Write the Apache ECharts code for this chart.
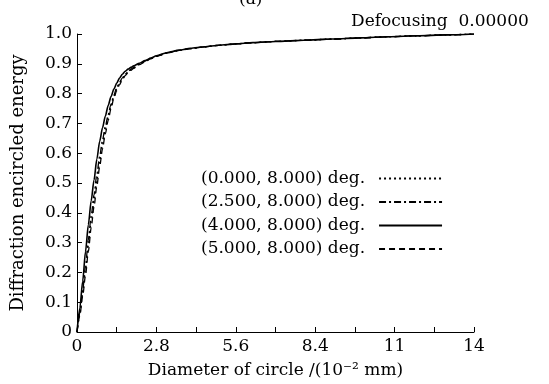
<!DOCTYPE html>
<html>
<head>
<meta charset="utf-8">
<script src="https://cdn.jsdelivr.net/npm/echarts@6/dist/echarts.min.js"></script>
<style>
  html, body { margin: 0; padding: 0; background: #fff; }
  #chart { width: 549px; height: 384px; }
</style>
</head>
<body>
<div id="chart"></div>
<script>
// diameter of circle (10^-2 mm)
const diameters = [0, 0.1, 0.2, 0.3, 0.4, 0.5, 0.6, 0.7, 0.8, 0.9, 1.0, 1.1, 1.2, 1.3, 1.4, 1.5, 1.6, 1.7, 1.8, 1.9,
  2.0, 2.2, 2.4, 2.6, 2.8, 3.2, 3.6, 4.0, 4.5, 5.0, 5.6, 6.2, 7.0, 8.0, 9.0, 10, 11, 12, 13, 14]

const energy_0_0 = [0, 0.06, 0.13, 0.21, 0.29, 0.37, 0.44, 0.51, 0.57, 0.63, 0.68, 0.72, 0.76, 0.79, 0.815, 0.835, 0.85, 0.862, 0.872, 0.88,
  0.887, 0.898, 0.908, 0.917, 0.925, 0.937, 0.945, 0.951, 0.957, 0.962, 0.967, 0.971, 0.975, 0.979, 0.983, 0.987, 0.991, 0.994, 0.997, 1.0]
const energy_2_5 = [0, 0.065, 0.14, 0.22, 0.31, 0.39, 0.46, 0.53, 0.59, 0.645, 0.69, 0.73, 0.765, 0.795, 0.82, 0.838, 0.853, 0.865, 0.874, 0.882,
  0.888, 0.899, 0.909, 0.918, 0.926, 0.937, 0.945, 0.951, 0.957, 0.962, 0.967, 0.971, 0.975, 0.979, 0.983, 0.987, 0.991, 0.994, 0.997, 1.0]
const energy_4_0 = [0, 0.08, 0.17, 0.27, 0.36, 0.44, 0.51, 0.58, 0.64, 0.685, 0.725, 0.76, 0.79, 0.815, 0.835, 0.852, 0.865, 0.875, 0.882, 0.888,
  0.893, 0.902, 0.911, 0.919, 0.927, 0.938, 0.946, 0.952, 0.957, 0.962, 0.967, 0.971, 0.975, 0.979, 0.983, 0.987, 0.991, 0.994, 0.997, 1.0]
const energy_5_0 = [0, 0.055, 0.12, 0.19, 0.27, 0.35, 0.42, 0.49, 0.555, 0.615, 0.665, 0.71, 0.75, 0.785, 0.81, 0.83, 0.847, 0.86, 0.87, 0.878,
  0.885, 0.897, 0.907, 0.917, 0.925, 0.937, 0.945, 0.951, 0.957, 0.962, 0.967, 0.971, 0.975, 0.979, 0.983, 0.987, 0.991, 0.994, 0.997, 1.0]

const seriesNames = ['(0.000, 8.000) deg.', '(2.500, 8.000) deg.', '(4.000, 8.000) deg.', '(5.000, 8.000) deg.']
const xTickLabels = ['0', '', '2.8', '', '5.6', '', '8.4', '', '11', '', '14']

const font = 'DejaVu Serif'
const chart = echarts.init(document.getElementById('chart'))

const pairs = (ys) => diameters.map((x, i) => [x, ys[i]])

const line = (name, ys, type, width) => ({
  name: name,
  type: 'line',
  data: pairs(ys),
  showSymbol: false,
  symbol: 'none',
  symbolSize: 0,
  smooth: 0.25,
  smoothMonotone: 'x',
  itemStyle: { color: '#000' },
  lineStyle: { color: '#000', width: width, type: type }
})

chart.setOption({
  animation: false,
  backgroundColor: '#fff',
  title: [
    { text: '(a)', left: 234, top: -14, textStyle: { fontFamily: font, fontSize: 17, fontWeight: 'normal', color: '#000' } },
    { text: 'Defocusing  0.00000', left: 346, top: 8, textStyle: { fontFamily: font, fontSize: 17, fontWeight: 'normal', color: '#000' } }
  ],
  legend: {
    data: seriesNames,
    orient: 'vertical',
    align: 'right',
    left: 196,
    top: 165,
    itemWidth: 63,
    itemHeight: 12,
    itemGap: 6.5,
    selectedMode: false,
    itemStyle: { opacity: 0 },
    textStyle: { fontFamily: font, fontSize: 17, color: '#000', padding: [0, 9, 0, 0] }
  },
  grid: { left: 77, right: 75, top: 34, bottom: 52 },
  xAxis: {
    type: 'value',
    min: 0,
    max: 14,
    interval: 1.4,
    name: 'Diameter of circle /(10⁻² mm)',
    nameLocation: 'middle',
    nameGap: 30,
    nameTextStyle: { fontFamily: font, fontSize: 17, color: '#000' },
    axisLine: { lineStyle: { color: '#000', width: 1 } },
    axisTick: { inside: true, length: 5, lineStyle: { color: '#000' } },
    axisLabel: {
      fontFamily: font, fontSize: 17, color: '#000', margin: 6,
      formatter: (v) => xTickLabels[Math.round(v / 1.4)] || ''
    },
    splitLine: { show: false }
  },
  yAxis: {
    type: 'value',
    min: 0,
    max: 1,
    interval: 0.1,
    name: 'Diffraction encircled energy',
    nameLocation: 'middle',
    nameGap: 50,
    nameTextStyle: { fontFamily: font, fontSize: 18, color: '#000' },
    axisLine: { show: true, lineStyle: { color: '#000', width: 1 } },
    axisTick: { show: true, inside: true, length: 5, lineStyle: { color: '#000' } },
    axisLabel: {
      fontFamily: font, fontSize: 17, color: '#000', margin: 5,
      formatter: (v) => v === 0 ? '0' : v.toFixed(1)
    },
    splitLine: { show: false }
  },
  series: [
    line(seriesNames[0], energy_0_0, [2, 3], 1.3),
    line(seriesNames[1], energy_2_5, [7, 3, 2, 3], 1.3),
    line(seriesNames[2], energy_4_0, 'solid', 1.6),
    line(seriesNames[3], energy_5_0, [6, 4], 1.3)
  ]
})
</script>
</body>
</html>
